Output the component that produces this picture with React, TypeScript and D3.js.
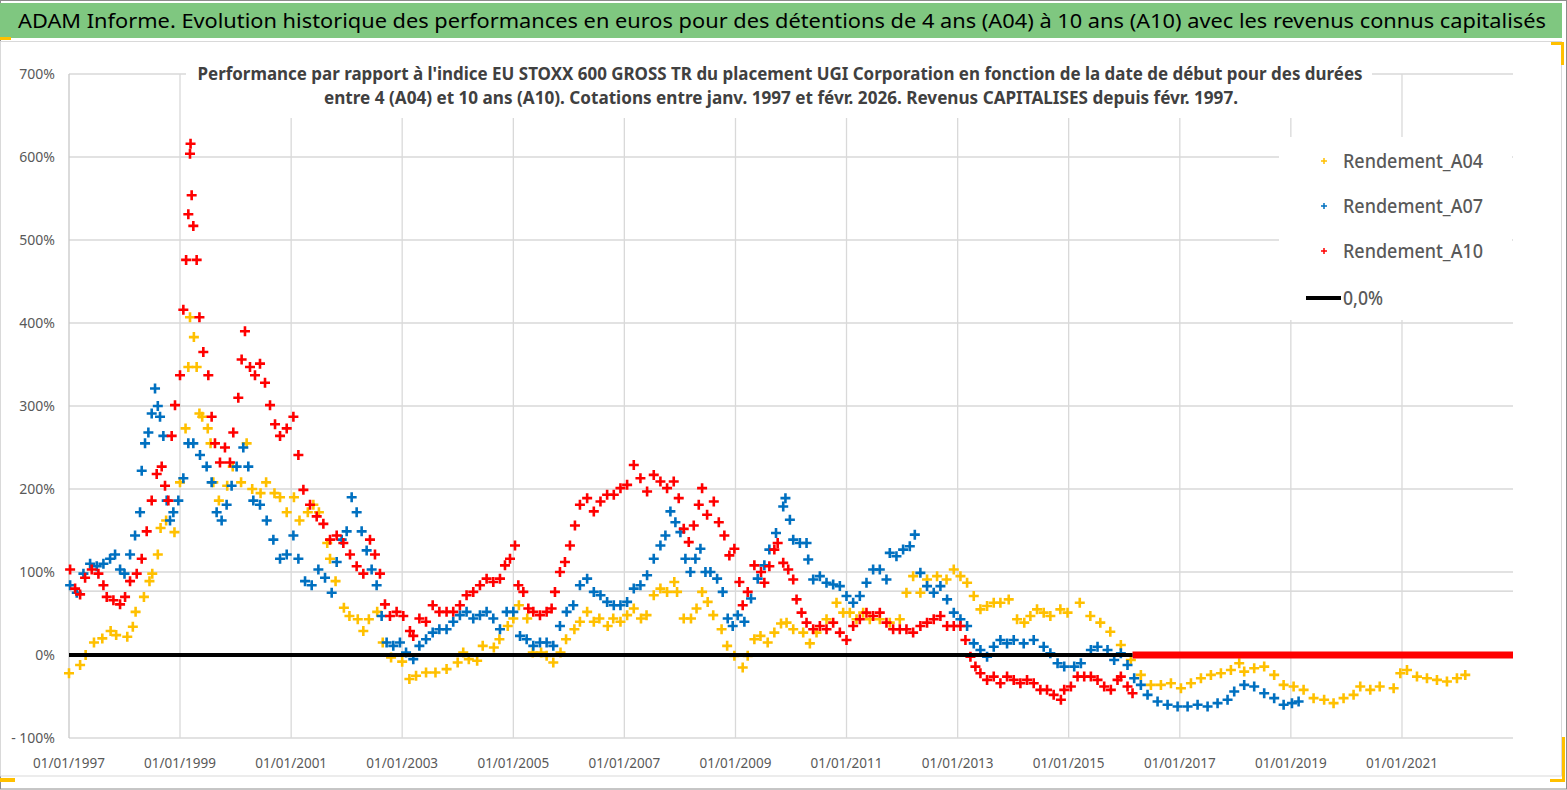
import * as d3 from 'd3';

// Values: [decimal year, performance in %]
const a04: [number, number][] = [
  [1997.0, -22], [1997.2, -12], [1997.3, 0], [1997.45, 15], [1997.6, 20], [1997.75, 29], [1997.85, 24],
  [1998.05, 22], [1998.15, 34], [1998.2, 52], [1998.35, 70], [1998.45, 89], [1998.5, 98], [1998.6, 121],
  [1998.65, 153], [1998.75, 162], [1998.9, 148], [1999.0, 208], [1999.1, 273], [1999.15, 347], [1999.18, 407],
  [1999.25, 383], [1999.3, 347], [1999.35, 291], [1999.4, 287], [1999.5, 273], [1999.55, 255], [1999.6, 208],
  [1999.7, 186], [1999.85, 204], [1999.95, 227], [2000.1, 208], [2000.2, 255], [2000.3, 200], [2000.45, 195],
  [2000.55, 208], [2000.7, 195], [2000.8, 190], [2000.92, 172], [2001.05, 190], [2001.15, 162], [2001.3, 172],
  [2001.4, 181], [2001.5, 172], [2001.65, 135], [2001.7, 116], [2001.8, 89], [2001.95, 57], [2002.05, 47],
  [2002.2, 43], [2002.3, 29], [2002.4, 43], [2002.55, 52], [2002.65, 15], [2002.8, -3], [2003.0, -8],
  [2003.13, -29], [2003.25, -25], [2003.43, -21], [2003.6, -21], [2003.8, -17], [2004.0, -9], [2004.1, 3],
  [2004.2, -5], [2004.35, -7], [2004.45, 11], [2004.65, 9], [2004.75, 19], [2004.9, 35], [2005.0, 44],
  [2005.1, 60], [2005.25, 44], [2005.35, 3], [2005.5, 3], [2005.6, -1], [2005.72, -9], [2005.85, 3],
  [2005.95, 19], [2006.1, 31], [2006.2, 40], [2006.33, 52], [2006.45, 40], [2006.55, 44], [2006.7, 35],
  [2006.8, 44], [2006.93, 40], [2007.05, 48], [2007.17, 56], [2007.3, 44], [2007.4, 48], [2007.53, 72],
  [2007.65, 80], [2007.77, 76], [2007.9, 88], [2007.95, 76], [2008.07, 44], [2008.2, 44], [2008.3, 56],
  [2008.4, 76], [2008.5, 64], [2008.6, 48], [2008.75, 31], [2008.85, 11], [2008.98, -1], [2009.13, -15],
  [2009.22, -1], [2009.34, 19], [2009.45, 23], [2009.58, 15], [2009.7, 27], [2009.82, 38], [2009.92, 39],
  [2010.04, 31], [2010.22, 27], [2010.34, 14], [2010.46, 27], [2010.64, 43], [2010.82, 63], [2010.94, 51],
  [2011.06, 51], [2011.18, 43], [2011.3, 51], [2011.42, 43], [2011.6, 43], [2011.78, 39], [2011.96, 43],
  [2012.08, 75], [2012.2, 95], [2012.33, 75], [2012.45, 91], [2012.63, 95], [2012.8, 91], [2012.93, 103],
  [2013.05, 95], [2013.17, 87], [2013.29, 71], [2013.41, 55], [2013.53, 59], [2013.65, 63], [2013.77, 63],
  [2013.92, 67], [2014.07, 43], [2014.2, 39], [2014.31, 47], [2014.43, 55], [2014.55, 51], [2014.67, 47],
  [2014.85, 55], [2014.98, 51], [2015.2, 63], [2015.39, 47], [2015.57, 39], [2015.75, 28], [2015.94, 12],
  [2016.12, -6], [2016.3, -24], [2016.48, -36], [2016.66, -36], [2016.84, -34], [2017.02, -40], [2017.2, -34],
  [2017.38, -28], [2017.56, -24], [2017.74, -22], [2017.92, -18], [2018.07, -10], [2018.16, -20], [2018.34, -16],
  [2018.52, -14], [2018.7, -24], [2018.87, -36], [2019.05, -38], [2019.23, -42], [2019.41, -52], [2019.6, -54],
  [2019.77, -58], [2019.95, -52], [2020.13, -48], [2020.25, -38], [2020.43, -42], [2020.6, -38], [2020.85, -40],
  [2020.97, -22], [2021.09, -18], [2021.27, -26], [2021.45, -28], [2021.63, -30], [2021.81, -32], [2021.99, -28],
  [2022.14, -24],
];

const a07: [number, number][] = [
  [1997.02, 84], [1997.14, 75], [1997.26, 98], [1997.38, 110], [1997.5, 107], [1997.62, 110], [1997.74, 116],
  [1997.83, 121], [1997.92, 103], [1998.0, 98], [1998.1, 121], [1998.19, 144], [1998.28, 172], [1998.31, 222],
  [1998.37, 255], [1998.43, 268], [1998.49, 291], [1998.55, 321], [1998.6, 300], [1998.64, 287], [1998.7, 264],
  [1998.76, 186], [1998.82, 162], [1998.88, 172], [1998.97, 186], [1999.06, 213], [1999.15, 255], [1999.24, 255],
  [1999.36, 241], [1999.48, 227], [1999.57, 208], [1999.66, 172], [1999.75, 162], [1999.84, 181], [1999.93, 204],
  [2000.02, 227], [2000.14, 250], [2000.23, 227], [2000.32, 186], [2000.44, 181], [2000.56, 162], [2000.68, 139],
  [2000.8, 116], [2000.92, 121], [2001.04, 144], [2001.13, 116], [2001.25, 89], [2001.37, 84], [2001.49, 103],
  [2001.61, 93], [2001.73, 75], [2001.82, 112], [2001.91, 139], [2002.0, 149], [2002.09, 190], [2002.18, 172],
  [2002.27, 149], [2002.36, 126], [2002.45, 103], [2002.54, 84], [2002.63, 47], [2002.72, 15], [2002.84, 11],
  [2002.96, 15], [2003.07, 3], [2003.2, -5], [2003.31, 11], [2003.43, 19], [2003.55, 27], [2003.67, 31],
  [2003.8, 31], [2003.92, 40], [2004.04, 48], [2004.16, 52], [2004.28, 44], [2004.4, 48], [2004.52, 52],
  [2004.64, 44], [2004.76, 31], [2004.88, 52], [2005.0, 52], [2005.12, 23], [2005.24, 19], [2005.36, 11],
  [2005.48, 15], [2005.6, 15], [2005.72, 11], [2005.84, 35], [2005.96, 52], [2006.08, 60], [2006.2, 84],
  [2006.33, 92], [2006.45, 76], [2006.57, 72], [2006.69, 64], [2006.81, 60], [2006.93, 60], [2007.05, 64],
  [2007.17, 80], [2007.29, 84], [2007.41, 96], [2007.53, 116], [2007.65, 132], [2007.74, 144], [2007.83, 173],
  [2007.92, 160], [2008.01, 148], [2008.1, 116], [2008.19, 100], [2008.28, 116], [2008.37, 128], [2008.46, 100],
  [2008.55, 100], [2008.67, 92], [2008.77, 76], [2008.86, 44], [2008.95, 35], [2009.04, 48], [2009.16, 40],
  [2009.28, 68], [2009.4, 92], [2009.52, 108], [2009.61, 127], [2009.73, 147], [2009.86, 179], [2009.9, 189],
  [2009.98, 163], [2010.04, 139], [2010.16, 135], [2010.28, 135], [2010.31, 115], [2010.4, 91], [2010.52, 95],
  [2010.64, 87], [2010.76, 85], [2010.88, 83], [2011.0, 71], [2011.12, 63], [2011.24, 71], [2011.36, 87],
  [2011.48, 103], [2011.6, 103], [2011.72, 91], [2011.78, 123], [2011.9, 119], [2012.02, 127], [2012.14, 131],
  [2012.23, 145], [2012.33, 99], [2012.45, 83], [2012.57, 75], [2012.69, 83], [2012.81, 67], [2012.93, 51],
  [2013.05, 43], [2013.17, 35], [2013.29, 14], [2013.41, 6], [2013.53, -2], [2013.65, 10], [2013.77, 18],
  [2013.89, 14], [2014.01, 18], [2014.19, 14], [2014.37, 18], [2014.55, 10], [2014.67, 2], [2014.8, -10],
  [2014.92, -14], [2015.1, -14], [2015.22, -10], [2015.4, 6], [2015.52, 10], [2015.7, 6], [2015.82, -6],
  [2015.94, 2], [2016.06, -12], [2016.18, -28], [2016.3, -36], [2016.42, -48], [2016.6, -56], [2016.78, -60],
  [2016.96, -62], [2017.14, -62], [2017.32, -60], [2017.5, -62], [2017.68, -58], [2017.86, -54], [2017.98, -44],
  [2018.16, -36], [2018.34, -38], [2018.52, -46], [2018.7, -52], [2018.87, -60], [2019.02, -58], [2019.14, -56],
];

const a10: [number, number][] = [
  [1997.02, 103], [1997.11, 80], [1997.2, 73], [1997.29, 93], [1997.41, 103], [1997.53, 98], [1997.62, 84],
  [1997.68, 70], [1997.8, 66], [1997.92, 61], [1998.01, 70], [1998.1, 89], [1998.22, 98], [1998.31, 116],
  [1998.4, 149], [1998.49, 186], [1998.58, 218], [1998.67, 227], [1998.73, 204], [1998.79, 186], [1998.85, 264],
  [1998.91, 301], [1999.0, 337], [1999.06, 416], [1999.11, 476], [1999.15, 531], [1999.18, 604], [1999.19, 616],
  [1999.21, 554], [1999.24, 517], [1999.3, 476], [1999.35, 407], [1999.42, 365], [1999.51, 337], [1999.57, 287],
  [1999.63, 255], [1999.72, 232], [1999.81, 250], [1999.9, 232], [1999.96, 268], [2000.05, 310], [2000.11, 356],
  [2000.17, 390], [2000.26, 347], [2000.35, 337], [2000.44, 351], [2000.53, 328], [2000.62, 301], [2000.71, 278],
  [2000.8, 264], [2000.92, 273], [2001.04, 287], [2001.13, 241], [2001.22, 199], [2001.34, 181], [2001.46, 167],
  [2001.58, 158], [2001.7, 139], [2001.82, 144], [2001.94, 135], [2002.06, 121], [2002.18, 107], [2002.3, 98],
  [2002.42, 139], [2002.51, 121], [2002.6, 98], [2002.69, 61], [2002.78, 47], [2002.9, 52], [2003.02, 47],
  [2003.14, 29], [2003.2, 23], [2003.31, 44], [2003.43, 40], [2003.55, 60], [2003.67, 52], [2003.8, 52],
  [2003.92, 52], [2004.04, 60], [2004.16, 72], [2004.28, 76], [2004.4, 84], [2004.52, 92], [2004.64, 88],
  [2004.76, 92], [2004.85, 108], [2004.94, 116], [2005.03, 132], [2005.09, 84], [2005.18, 76], [2005.27, 56],
  [2005.36, 52], [2005.48, 48], [2005.6, 52], [2005.69, 56], [2005.75, 76], [2005.84, 100], [2005.93, 112],
  [2006.02, 132], [2006.11, 156], [2006.2, 181], [2006.33, 189], [2006.45, 173], [2006.57, 185], [2006.69, 193],
  [2006.81, 193], [2006.93, 201], [2007.05, 205], [2007.17, 229], [2007.29, 213], [2007.41, 197], [2007.53, 217],
  [2007.65, 209], [2007.77, 201], [2007.89, 209], [2007.98, 189], [2008.07, 152], [2008.16, 136], [2008.25, 156],
  [2008.34, 181], [2008.4, 201], [2008.49, 169], [2008.61, 185], [2008.7, 160], [2008.8, 144], [2008.89, 120],
  [2008.98, 128], [2009.07, 88], [2009.13, 60], [2009.22, 76], [2009.34, 108], [2009.46, 100], [2009.52, 87],
  [2009.61, 107], [2009.7, 127], [2009.76, 135], [2009.86, 111], [2009.95, 103], [2010.04, 91], [2010.1, 67],
  [2010.19, 51], [2010.28, 39], [2010.4, 31], [2010.52, 35], [2010.64, 31], [2010.76, 39], [2010.88, 27],
  [2011.0, 18], [2011.12, 35], [2011.24, 43], [2011.36, 51], [2011.48, 47], [2011.6, 51], [2011.72, 39],
  [2011.84, 31], [2011.96, 31], [2012.08, 31], [2012.2, 27], [2012.33, 35], [2012.45, 39], [2012.57, 43],
  [2012.69, 47], [2012.81, 35], [2012.93, 35], [2013.05, 35], [2013.14, 18], [2013.23, -2], [2013.32, -14],
  [2013.41, -22], [2013.53, -30], [2013.65, -26], [2013.77, -34], [2013.89, -26], [2014.01, -30], [2014.13, -34],
  [2014.25, -30], [2014.37, -34], [2014.49, -42], [2014.61, -42], [2014.73, -48], [2014.86, -54], [2014.92, -42],
  [2015.04, -38], [2015.16, -26], [2015.28, -26], [2015.4, -26], [2015.52, -30], [2015.64, -38], [2015.76, -42],
  [2015.88, -30], [2015.94, -26], [2016.06, -38], [2016.15, -46],
];

// A10 reads 0% for every start date after this one, up to the end of the axis
const a10ZeroSpan: [number, number] = [2016.15, 2023.0];
// the 0,0% reference series
const zeroLineSpan: [number, number] = [1997.0, 2016.15];

const xTickYears = [1997, 1999, 2001, 2003, 2005, 2007, 2009, 2011, 2013, 2015, 2017, 2019, 2021];
const yTicks = [700, 600, 500, 400, 300, 200, 100, 0, -100];
const extraLineValue = 77;

const seriesNames = ['Rendement_A04', 'Rendement_A07', 'Rendement_A10'];
const seriesColors = ['#ffc000', '#0070c0', '#ff0000'];

const title =
  'ADAM Informe. Evolution historique des performances en euros pour des détentions de 4 ans (A04) à 10 ans (A10) avec les revenus connus capitalisés';
const subtitle1 =
  "Performance par rapport à l'indice EU STOXX 600 GROSS TR  du placement UGI Corporation en fonction de la date de début pour des durées";
const subtitle2 =
  'entre 4 (A04) et 10 ans (A10). Cotations entre janv. 1997 et févr. 2026. Revenus CAPITALISES depuis févr. 1997.';

const W = 1567;
const H = 790;
const FONT = "'Noto Sans', 'Open Sans', sans-serif";

function yearToDate(y: number) {
  const yr = Math.floor(y);
  const start = new Date(yr, 0, 1).getTime();
  const end = new Date(yr + 1, 0, 1).getTime();
  return new Date(start + (y - yr) * (end - start));
}

const plusPath = (s: number) => `M${-s},0H${s}M0,${-s}V${s}`;

export default function App() {
  const x = d3
    .scaleTime()
    .domain([new Date(1997, 0, 1), new Date(2023, 0, 1)])
    .range([69, 1513]);
  const y = d3.scaleLinear().domain([-100, 700]).range([738, 74]);

  const series = [a04, a07, a10];
  const fmtY = (v: number) => (v < 0 ? `- ${-v}%` : `${v}%`);

  return (
    <svg
      width={W}
      height={H}
      style={{ position: 'absolute', left: 0, top: 0, background: '#fff' }}
      fontFamily={FONT}
    >
      {/* frame */}
      <rect x={0.5} y={0.5} width={W - 1} height={H - 1.5} fill="#fff" stroke="#8c8c8c" />
      <rect x={0.5} y={41.5} width={1561} height={734.5} fill="none" stroke="#d9d9d9" />
      <rect x={0} y={3} width={1562} height={35} fill="#7fc780" />
      <text x={18} y={28} fontSize={20} fill="#000" textLength={1528} lengthAdjust="spacingAndGlyphs">
        {title}
      </text>

      {/* yellow corner marks */}
      <rect x={0} y={37} width={11} height={3} fill="#ffc000" />
      <path d="M1551,43.5H1562.5V65" fill="none" stroke="#ffc000" strokeWidth={3} />
      <path d="M1563.5,737V780.5H1550" fill="none" stroke="#ffc000" strokeWidth={3} />
      <rect x={0} y={778} width={15} height={4} fill="#ffc000" />

      {/* grid */}
      {yTicks.map((v) => (
        <line key={'h' + v} x1={69} x2={1513} y1={y(v)} y2={y(v)} stroke="#d9d9d9" strokeWidth={1.3} />
      ))}
      <line x1={69} x2={1513} y1={y(extraLineValue)} y2={y(extraLineValue)} stroke="#cfcfcf" strokeWidth={1.3} />
      {xTickYears.slice(1).map((yr) => (
        <line
          key={'v' + yr}
          x1={x(new Date(yr, 0, 1))}
          x2={x(new Date(yr, 0, 1))}
          y1={y(700)}
          y2={y(-100)}
          stroke="#d9d9d9"
          strokeWidth={1.3}
        />
      ))}
      <line x1={69} x2={69} y1={y(700)} y2={y(-100)} stroke="#c8c8c8" strokeWidth={1.3} />

      {/* axis labels */}
      {yTicks.map((v) => (
        <text key={'yl' + v} x={55} y={y(v) + 5} fontSize={14} fill="#595959" textAnchor="end">
          {fmtY(v)}
        </text>
      ))}
      {xTickYears.map((yr) => (
        <text key={'xl' + yr} x={x(new Date(yr, 0, 1))} y={768} fontSize={13.5} fill="#595959" textAnchor="middle">
          {`01/01/${yr}`}
        </text>
      ))}

      {/* subtitle box */}
      <rect x={186} y={60} width={1186} height={58} fill="#fff" />
      <text x={780} y={80} fontSize={17.5} fontWeight="bold" fill="#404040" textAnchor="middle" textLength={1165} lengthAdjust="spacingAndGlyphs">
        {subtitle1}
      </text>
      <text x={781} y={104} fontSize={17.5} fontWeight="bold" fill="#404040" textAnchor="middle" textLength={914} lengthAdjust="spacingAndGlyphs">
        {subtitle2}
      </text>

      {/* data */}
      {series.map((s, i) => (
        <g key={seriesNames[i]} stroke={seriesColors[i]} strokeWidth={2.6} fill="none">
          {s.map(([t, v], j) => (
            <path key={j} d={plusPath(5)} transform={`translate(${x(yearToDate(t))},${y(v)})`} />
          ))}
        </g>
      ))}
      <line
        x1={x(yearToDate(a10ZeroSpan[0]))}
        x2={x(yearToDate(a10ZeroSpan[1]))}
        y1={y(0)}
        y2={y(0)}
        stroke="#ff0000"
        strokeWidth={7}
      />
      <line
        x1={x(yearToDate(zeroLineSpan[0]))}
        x2={x(yearToDate(zeroLineSpan[1]))}
        y1={y(0)}
        y2={y(0)}
        stroke="#000"
        strokeWidth={4}
      />

      {/* legend */}
      <rect x={1279} y={137} width={233} height={183} fill="#fff" />
      {seriesNames.map((n, i) => (
        <g key={'lg' + n} transform={`translate(0,${161 + i * 45})`}>
          <path d={plusPath(3)} transform="translate(1324,0)" stroke={seriesColors[i]} strokeWidth={1.5} />
          <text x={1343} y={7} fontSize={20} fontWeight={500} fill="#595959" textLength={140} lengthAdjust="spacingAndGlyphs">
            {n}
          </text>
        </g>
      ))}
      <line x1={1306} x2={1341} y1={298} y2={298} stroke="#000" strokeWidth={4} />
      <text x={1343} y={305} fontSize={20} fontWeight={500} fill="#595959" textLength={40} lengthAdjust="spacingAndGlyphs">
        0,0%
      </text>
    </svg>
  );
}
